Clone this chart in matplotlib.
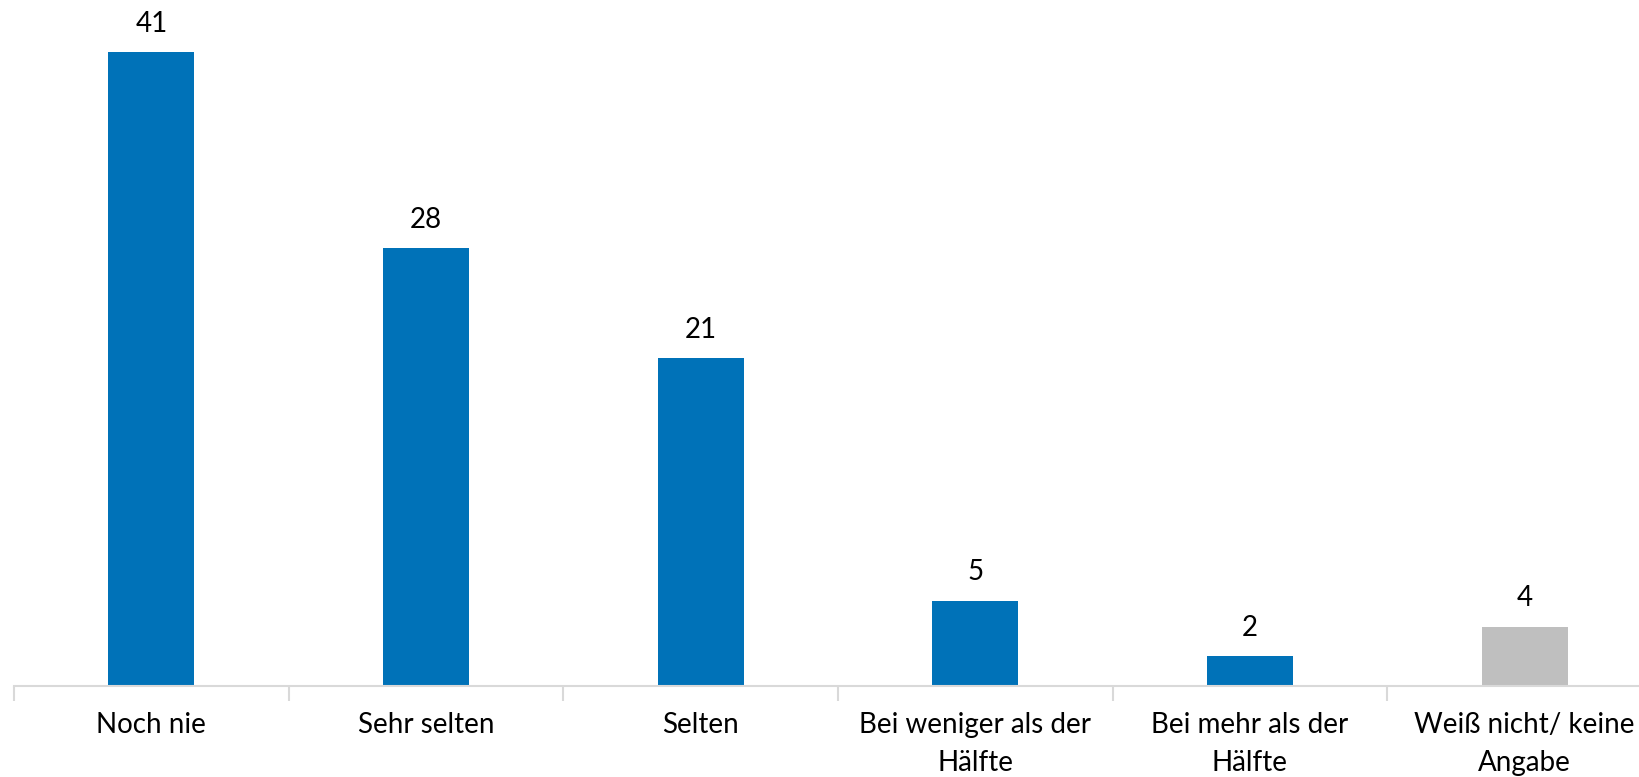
import numpy as np
import matplotlib
matplotlib.use("Agg")
import matplotlib.pyplot as plt

categories = ["Noch nie", "Sehr selten", "Selten", "Bei weniger als der\nHälfte",
              "Bei mehr als der\nHälfte", "Weiß nicht/ keine\nAngabe"]
values = [41.0, 28.3, 21.2, 5.5, 1.9, 3.8]
labels = ["41", "28", "21", "5", "2", "4"]
colors = ["#0072b8"] * 5 + ["#bfbfbf"]

plt.rcParams["font.family"] = ["Lato", "DejaVu Sans"]

W, H = 1639, 777
fig = plt.figure(figsize=(W / 100, H / 100), dpi=100)
# axis runs past the right edge like in the original
ax = fig.add_axes([14 / W, (H - 685.5) / H, 1648 / W, 680 / H])

x = np.arange(len(categories))
ax.bar(x, values, width=0.313, color=colors, zorder=2)
for xi, v, lab in zip(x, values, labels):
    ax.annotate(lab, (xi, v), xytext=(0, 11), textcoords="offset points",
                ha="center", va="bottom", fontsize=20, color="#000000")

ax.set_xlim(-0.5, len(categories) - 0.5)
ax.set_ylim(0, 44)

for s in ["top", "right", "left"]:
    ax.spines[s].set_visible(False)
ax.spines["bottom"].set_color("#d9d9d9")
ax.spines["bottom"].set_linewidth(1.5)

ax.set_yticks([])
ax.set_xticks(x)
ax.set_xticklabels(categories, fontsize=20, linespacing=1.6)
ax.tick_params(axis="x", which="major", length=0, pad=19)
ax.set_xticks(np.arange(len(categories) + 1) - 0.5, minor=True)
ax.tick_params(axis="x", which="minor", length=11, width=1.5, color="#d9d9d9")

fig.savefig("out.png", dpi=100)
